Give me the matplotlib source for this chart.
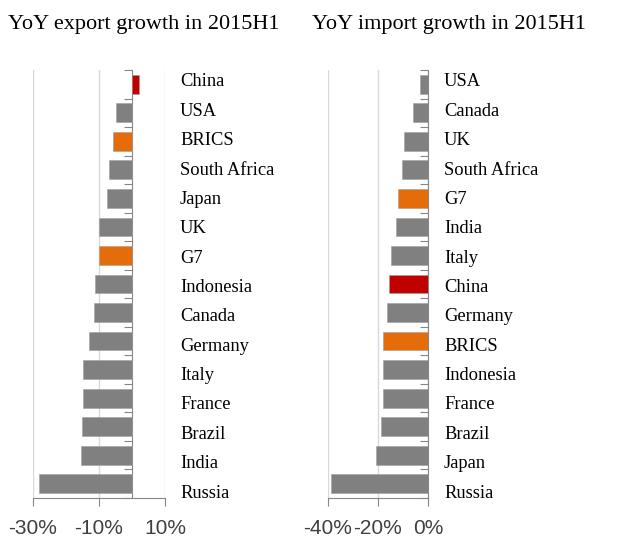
import numpy as np
import matplotlib.pyplot as plt

# export growth, 2015H1 (%)
exp_names = ['China', 'USA', 'BRICS', 'South Africa', 'Japan', 'UK', 'G7', 'Indonesia',
             'Canada', 'Germany', 'Italy', 'France', 'Brazil', 'India', 'Russia']
exp_vals = [2.2, -5.0, -5.7, -6.9, -7.7, -10.0, -10.0, -11.1,
            -11.5, -13.1, -14.7, -14.7, -15.1, -15.5, -28.3]

# import growth, 2015H1 (%)
imp_names = ['USA', 'Canada', 'UK', 'South Africa', 'G7', 'India', 'Italy', 'China',
             'Germany', 'BRICS', 'Indonesia', 'France', 'Brazil', 'Japan', 'Russia']
imp_vals = [-3.2, -6.1, -9.7, -10.3, -11.9, -12.9, -14.9, -15.5,
            -16.5, -18.0, -18.0, -18.1, -18.9, -20.9, -38.9]

gray = '#808080'
orange = '#E46C0A'
red = '#C00000'

def colour(name):
    if name == 'China':
        return red
    if name in ('BRICS', 'G7'):
        return orange
    return gray

serif = 'Liberation Serif'
sans = 'Liberation Sans'

W, H = 622, 539
fig = plt.figure(figsize=(W / 100, H / 100), dpi=100)
ax1 = fig.add_axes([33/W, 41/H, 132/W, 428/H])
ax2 = fig.add_axes([328/W, 41/H, 100/W, 428/H])

def draw(ax, names, vals, xlim, xticks, label_px):
    n = len(names)
    y = np.arange(n)
    ax.barh(y, vals, height=0.66, color=[colour(c) for c in names],
            edgecolor='#A0A0A0', linewidth=0.4, zorder=3)
    ax.set_ylim(n - 0.5, -0.5)
    ax.set_xlim(xlim)
    ax.set_xticks(xticks)
    ax.set_xticklabels(['%d%%' % t for t in xticks], fontfamily=sans, fontsize=15,
                       color='#404040')
    ax.set_yticks(np.arange(n + 1) - 0.5)
    ax.set_yticklabels([])
    ax.grid(axis='x', color='#D9D9D9', linewidth=1, zorder=0)
    ax.spines['top'].set_visible(False)
    ax.spines['right'].set_visible(False)
    ax.spines['left'].set_position(('data', 0))
    ax.spines['left'].set_color('#868686')
    ax.spines['bottom'].set_color('#868686')
    ax.tick_params(axis='y', length=6, color='#868686', direction='out')
    ax.tick_params(axis='x', length=6, color='#868686', pad=9)
    # category labels sit in their own column to the right
    ys = np.linspace(82, 493, n)
    for nm, yp in zip(names, ys):
        fig.text(label_px / W, 1 - yp / H, nm, va='center', ha='left',
                 fontfamily=serif, fontsize=13.3)

draw(ax1, exp_names, exp_vals, (-30, 10), [-30, -10, 10], 180)
draw(ax2, imp_names, imp_vals, (-40, 0), [-40, -20, 0], 444)

fig.text(8/W, 1 - 24/H, 'YoY export growth in 2015H1', fontfamily=serif, fontsize=16,
         va='center', ha='left')
fig.text(312/W, 1 - 24/H, 'YoY import growth in 2015H1', fontfamily=serif, fontsize=16,
         va='center', ha='left')

fig.savefig('out.png', dpi=100)
